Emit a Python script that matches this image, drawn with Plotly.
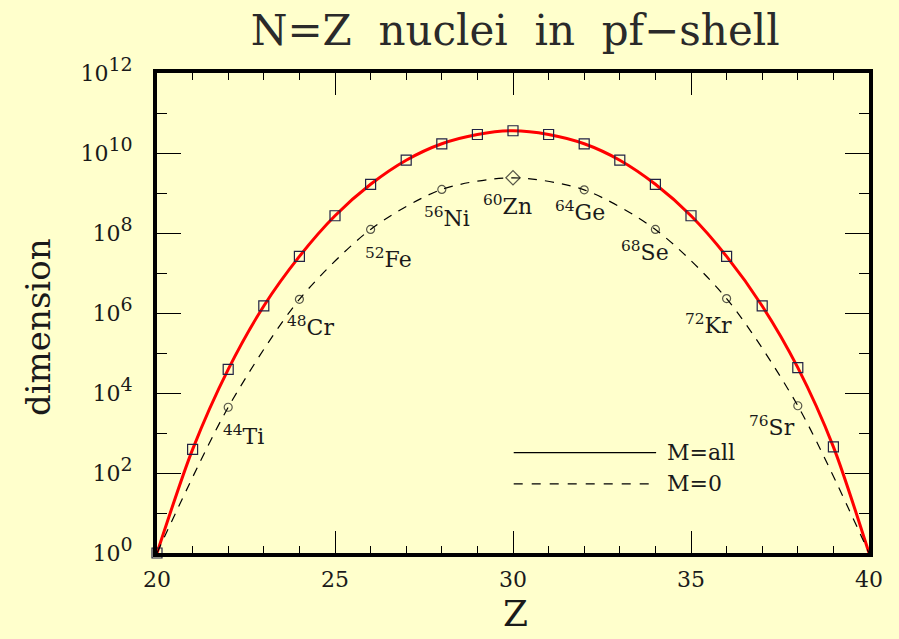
import math
import plotly.graph_objects as go

# ---------------- data ----------------
Z_all = list(range(20, 41))
# M=all dimension
dim_all = [1, 3.9e2, 3.9e4, 1.5e6, 2.6e7, 2.7e8, 1.65e9, 6.6e9, 1.7e10, 2.9e10, 3.6e10,
           2.9e10, 1.7e10, 6.6e9, 1.65e9, 2.7e8, 2.6e7, 1.5e6, 4.3e4, 4.5e2, 1]

Z_m0 = [20, 22, 24, 26, 28, 30, 32, 34, 36, 38, 40]
dim_m0 = [1, 4.4e3, 2.2e6, 1.23e8, 1.23e9, 2.4e9, 1.2e9, 1.23e8, 2.3e6, 4.8e3, 1]

nuclei_Z = [22, 24, 26, 28, 30, 32, 34, 36, 38]
nuclei_dim = [4.4e3, 2.2e6, 1.23e8, 1.23e9, 2.4e9, 1.2e9, 1.23e8, 2.3e6, 4.8e3]
nuclei_A = ["44", "48", "52", "56", "60", "64", "68", "72", "76"]
nuclei_sym = ["Ti", "Cr", "Fe", "Ni", "Zn", "Ge", "Se", "Kr", "Sr"]

y_tickvals = [1, 1e2, 1e4, 1e6, 1e8, 1e10, 1e12]
y_exponents = ["0", "2", "4", "6", "8", "10", "12"]
y_minorvals = [10, 1e3, 1e5, 1e7, 1e9, 1e11]
x_tickvals = [20, 25, 30, 35, 40]

# ---------------- style ----------------
BG = "#FFFFCC"
SERIF = "DejaVu Serif"
TXT = "#1a1a1a"
label_dx = [-7, -14, -8, -20, -32, -31, -36, -44, -51]
label_dy = [38, 37, 39, 38, 37, 31, 32, 35, 30]

y_ticktext = [f"10<sup><span style='font-size:19px'>{e}</span></sup>" for e in y_exponents]

fig = go.Figure()

fig.add_trace(go.Scatter(x=Z_all, y=dim_all, mode="lines",
                         line=dict(color="#FF0000", width=3, shape="spline", smoothing=0.8),
                         showlegend=False, hoverinfo="skip"))
fig.add_trace(go.Scatter(x=Z_all[:-1], y=dim_all[:-1], mode="markers",
                         marker=dict(symbol="square-open", size=10, color="#222244", line=dict(width=1.2)),
                         showlegend=False, cliponaxis=False))
fig.add_trace(go.Scatter(x=Z_m0, y=dim_m0, mode="lines",
                         line=dict(color="black", width=1.2, dash="9px,8px", shape="spline", smoothing=0.8),
                         showlegend=False, hoverinfo="skip"))
symbols = ["diamond-open" if z == 30 else "circle-open" for z in nuclei_Z]
fig.add_trace(go.Scatter(x=nuclei_Z, y=nuclei_dim, mode="markers",
                         marker=dict(symbol=symbols, size=[11 if z == 30 else 8 for z in nuclei_Z],
                                     color="#111111", line=dict(width=1.2)),
                         showlegend=False))

for z, d, a, s, dx, dy in zip(nuclei_Z, nuclei_dim, nuclei_A, nuclei_sym, label_dx, label_dy):
    fig.add_annotation(x=z, y=math.log10(d), xref="x", yref="y",
                       text=f"<sup>{a}</sup>{s}", showarrow=False,
                       xanchor="left", yanchor="bottom", xshift=dx, yshift=-dy - 6,
                       font=dict(family=SERIF, size=22, color=TXT))

# legend drawn as shapes + text
fig.add_shape(type="line", xref="paper", yref="paper", x0=0.501, x1=0.701, y0=0.209, y1=0.209,
              line=dict(color="black", width=1.2))
fig.add_shape(type="line", xref="paper", yref="paper", x0=0.501, x1=0.701, y0=0.144, y1=0.144,
              line=dict(color="black", width=1.2, dash="9px,9px"))
fig.add_annotation(x=0.713, y=0.209, xref="paper", yref="paper", text="M=all", showarrow=False,
                   xanchor="left", yanchor="middle", font=dict(family=SERIF, size=22, color=TXT))
fig.add_annotation(x=0.713, y=0.144, xref="paper", yref="paper", text="M=0", showarrow=False,
                   xanchor="left", yanchor="middle", font=dict(family=SERIF, size=22, color=TXT))

# axis titles
fig.add_annotation(x=-0.167, y=0.471, xref="paper", yref="paper", text="dimension", showarrow=False,
                   textangle=-90, xanchor="center", yanchor="middle",
                   font=dict(family=SERIF, size=34, color=TXT))
fig.add_annotation(x=0.503, y=-0.125, xref="paper", yref="paper", text="Z", showarrow=False,
                   xanchor="center", yanchor="middle", font=dict(family=SERIF, size=36, color=TXT))

axis_common = dict(showline=True, linecolor="black", linewidth=4, mirror="allticks",
                   ticks="inside", tickcolor="black", tickwidth=1.3, showgrid=False, zeroline=False,
                   tickfont=dict(family=SERIF, size=22, color=TXT))

fig.update_xaxes(range=[20, 40], tickvals=x_tickvals, ticklen=22,
                 minor=dict(dtick=1, tick0=20, ticklen=7, ticks="inside", tickcolor="black", tickwidth=1.2,
                            showgrid=False),
                 ticklabelstandoff=4, **axis_common)
fig.update_yaxes(type="log", range=[0, 12], tickvals=y_tickvals, ticktext=y_ticktext, ticklen=24,
                 minor=dict(tickvals=y_minorvals, ticklen=10, ticks="inside", tickcolor="black", tickwidth=1.2,
                            showgrid=False),
                 ticklabelstandoff=16, **axis_common)

fig.update_layout(
    width=899, height=639,
    margin=dict(l=157, r=30, t=73, b=86),
    paper_bgcolor=BG, plot_bgcolor=BG,
    title=dict(text="N=Z  nuclei  in  pf\u2212shell", x=0.573, xref="container", xanchor="center",
               y=0.953, yref="container", yanchor="middle",
               font=dict(family=SERIF, size=42, color="#2a2a2a")),
    showlegend=False,
)

fig.write_html("out.html", config={"displayModeBar": False},
               post_script="document.body.style.margin='0';document.body.style.background='#FFFFCC';")
